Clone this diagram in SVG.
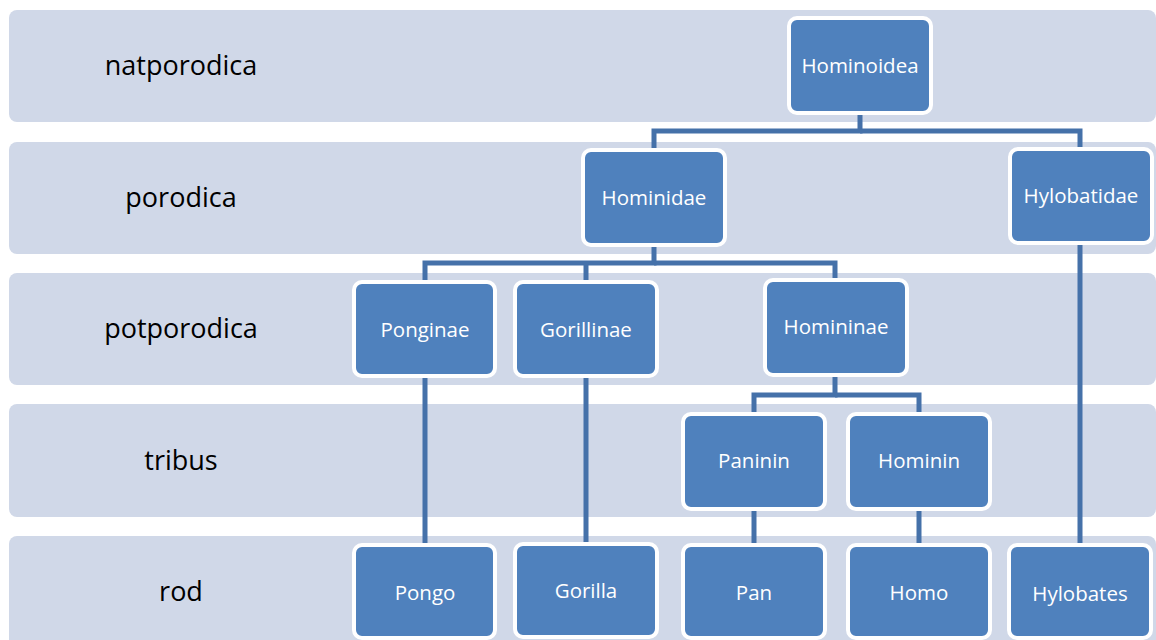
<svg xmlns="http://www.w3.org/2000/svg" width="1156" height="640" viewBox="0 0 1156 640">
<style>
.band{fill:#D0D8E8}
.lbl{font-family:"Open Sans","Liberation Sans",sans-serif;font-size:27px;fill:#000;text-anchor:middle}
.node rect{fill:#4F81BD;stroke:#FFFFFF;stroke-width:4}
.node text{font-family:"Open Sans","Liberation Sans",sans-serif;font-size:20.5px;fill:#FFFFFF;text-anchor:middle}
.conn path{fill:none;stroke:#4571A9;stroke-width:5}
</style>
<rect width="1156" height="640" fill="#FFFFFF"/>
<g id="bands">
<rect class="band" x="9" y="10" width="1147" height="112" rx="8"/>
<rect class="band" x="9" y="142" width="1147" height="112" rx="8"/>
<rect class="band" x="9" y="273" width="1147" height="112" rx="8"/>
<rect class="band" x="9" y="404" width="1147" height="113" rx="8"/>
<rect class="band" x="9" y="536" width="1147" height="112" rx="8"/>
<text class="lbl" x="181" y="75">natporodica</text>
<text class="lbl" x="181" y="207">porodica</text>
<text class="lbl" x="181" y="338">potporodica</text>
<text class="lbl" x="181" y="470">tribus</text>
<text class="lbl" x="181" y="601">rod</text>
</g>
<g id="connectors" class="conn">
<path d="M860,113 V131 H654 V150"/>
<path d="M860,131 H1080 V149"/>
<path d="M654,245 V263 H425 V282"/>
<path d="M654,263 H835 V280"/>
<path d="M586,263 V282"/>
<path d="M835,375 V395 H754 V414"/>
<path d="M835,395 H919 V414"/>
<path d="M425,376 V545"/>
<path d="M586,376 V544"/>
<path d="M754,509 V545"/>
<path d="M919,509 V545"/>
<path d="M1080,243 V545"/>
</g>
<g id="n-hominoidea" class="node"><rect x="789" y="18" width="142" height="95" rx="8"/><text x="860" y="73">Hominoidea</text></g>
<g id="n-hominidae" class="node"><rect x="583" y="150" width="142" height="95" rx="8"/><text x="654" y="205">Hominidae</text></g>
<g id="n-hylobatidae" class="node"><rect x="1010" y="149" width="142" height="94" rx="8"/><text x="1081" y="203">Hylobatidae</text></g>
<g id="n-ponginae" class="node"><rect x="354" y="282" width="141" height="94" rx="8"/><text x="425" y="337">Ponginae</text></g>
<g id="n-gorillinae" class="node"><rect x="515" y="282" width="142" height="94" rx="8"/><text x="586" y="337">Gorillinae</text></g>
<g id="n-homininae" class="node"><rect x="765" y="280" width="142" height="95" rx="8"/><text x="836" y="334">Homininae</text></g>
<g id="n-paninin" class="node"><rect x="683" y="414" width="142" height="95" rx="8"/><text x="754" y="468">Paninin</text></g>
<g id="n-hominin" class="node"><rect x="848" y="414" width="142" height="95" rx="8"/><text x="919" y="468">Hominin</text></g>
<g id="n-pongo" class="node"><rect x="354" y="545" width="141" height="93" rx="8"/><text x="425" y="600">Pongo</text></g>
<g id="n-gorilla" class="node"><rect x="515" y="544" width="142" height="93" rx="8"/><text x="586" y="598">Gorilla</text></g>
<g id="n-pan" class="node"><rect x="683" y="545" width="142" height="93" rx="8"/><text x="754" y="600">Pan</text></g>
<g id="n-homo" class="node"><rect x="848" y="545" width="142" height="93" rx="8"/><text x="919" y="600">Homo</text></g>
<g id="n-hylobates" class="node"><rect x="1009" y="545" width="142" height="93" rx="8"/><text x="1080" y="601">Hylobates</text></g>
</svg>
